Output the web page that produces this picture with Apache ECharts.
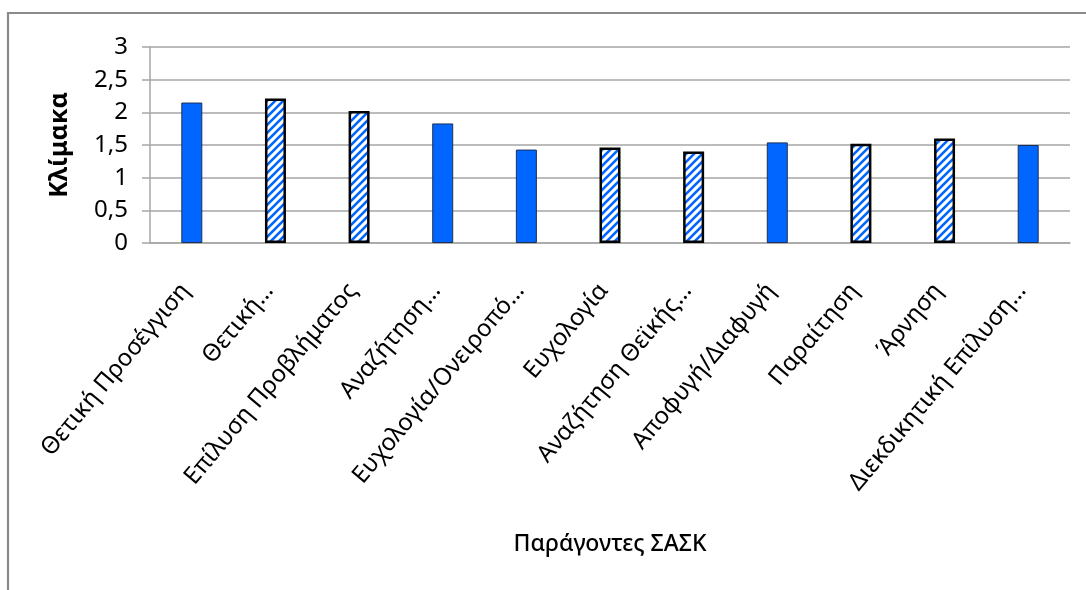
<!DOCTYPE html>
<html>
<head>
<meta charset="utf-8">
<script src="https://cdn.jsdelivr.net/npm/echarts@6/dist/echarts.min.js"></script>
<style>
html,body{margin:0;padding:0;background:#fff;}
#c{width:1086px;height:590px;}
</style>
</head>
<body>
<div id="c"></div>
<script>
const categories = [
  'Θετική Προσέγγιση',
  'Θετική…',
  'Επίλυση Προβλήματος',
  'Αναζήτηση…',
  'Ευχολογία/Ονειροπό…',
  'Ευχολογία',
  'Αναζήτηση Θεϊκής…',
  'Αποφυγή/Διαφυγή',
  'Παραίτηση',
  'Άρνηση',
  'Διεκδικητική Επίλυση…'
];
const values = [2.15, 2.21, 2.02, 1.83, 1.43, 1.46, 1.40, 1.54, 1.52, 1.60, 1.50];
const yTickLabels = ['0', '0,5', '1', '1,5', '2', '2,5', '3'];
const hatchedIndex = [1, 2, 5, 6, 8, 9];

const BLUE = '#0066FF';
const FONT = 'Noto Sans';

// hatch pattern tile
const tile = document.createElement('canvas');
tile.width = 8; tile.height = 8;
(function(){
  const ctx = tile.getContext('2d');
  ctx.fillStyle = '#fff';
  ctx.fillRect(0,0,8,8);
  ctx.strokeStyle = BLUE;
  ctx.lineWidth = 2.6;
  ctx.beginPath();
  ctx.moveTo(0,8); ctx.lineTo(8,0);
  ctx.moveTo(-2,2); ctx.lineTo(2,-2);
  ctx.moveTo(6,10); ctx.lineTo(10,6);
  ctx.stroke();
})();

const seriesData = values.map((v, i) => {
  const hatched = hatchedIndex.indexOf(i) >= 0;
  return {
    value: v,
    itemStyle: hatched
      ? { color: { image: tile, repeat: 'repeat' }, borderColor: '#000', borderWidth: 2.5 }
      : { color: BLUE, borderColor: '#1c2f55', borderWidth: 1 }
  };
});

const chart = echarts.init(document.getElementById('c'), null, {renderer: 'canvas'});
chart.setOption({
  animation: false,
  backgroundColor: '#fff',
  grid: { left: 150, right: 16, top: 47, bottom: 347, containLabel: false },
  graphic: [{
    type: 'rect', z: 100, silent: true,
    shape: { x: 8, y: 13, width: 1200, height: 700 },
    style: { fill: 'none', stroke: '#8a8a8a', lineWidth: 2.2 }
  }],
  xAxis: {
    type: 'category',
    data: categories,
    name: 'Παράγοντες ΣΑΣΚ',
    nameLocation: 'middle',
    nameGap: 290,
    nameTextStyle: { fontFamily: FONT, fontSize: 23, color: '#000', fontWeight: 500 },
    axisLine: { lineStyle: { color: '#a6a6a6', width: 1.5 } },
    axisTick: { show: false },
    axisLabel: {
      interval: 0, rotate: 50, margin: 36,
      padding: [0, 10, 0, 0],
      fontFamily: FONT, fontSize: 24, color: '#000'
    }
  },
  yAxis: {
    type: 'value',
    min: 0, max: 3, interval: 0.5,
    name: 'Κλίμακα',
    nameLocation: 'middle',
    nameGap: 78,
    nameRotate: 90,
    nameTextStyle: { fontFamily: FONT, fontSize: 25, fontWeight: 'bold', color: '#000' },
    axisLine: { show: true, lineStyle: { color: '#a6a6a6', width: 1.5 } },
    axisTick: { show: true, length: 8, lineStyle: { color: '#a6a6a6', width: 1.5 } },
    splitLine: { lineStyle: { color: '#a6a6a6', width: 1.5 } },
    axisLabel: {
      margin: 22,
      fontFamily: FONT, fontSize: 24, color: '#000',
      formatter: v => yTickLabels[Math.round(v / 0.5)]
    }
  },
  series: [{
    type: 'bar',
    data: seriesData,
    barWidth: 21
  }]
});
</script>
</body>
</html>
